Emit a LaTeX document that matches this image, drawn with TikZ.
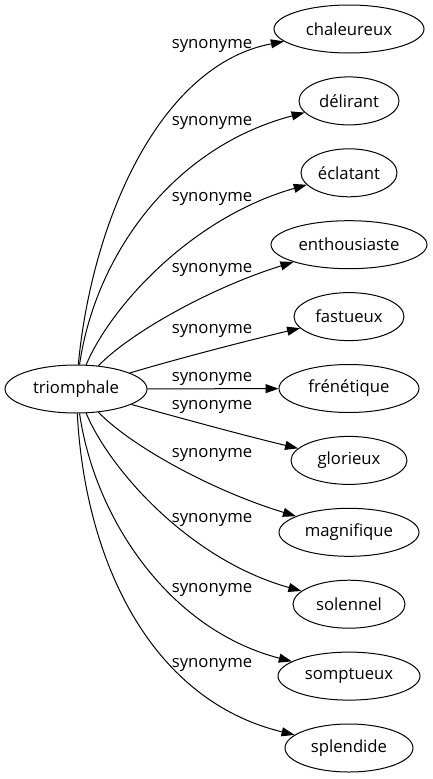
\documentclass[tikz,border=0pt]{standalone}
\usepackage{fontspec}
\setmainfont{Open Sans}
\usetikzlibrary{shapes.geometric,arrows.meta}
\begin{document}
\begin{tikzpicture}[x=1pt,y=-1pt,
  word/.style={draw, ellipse, inner sep=0pt, minimum height=48pt, line width=1pt, font=\fontsize{16.7}{20}\selectfont},
  rel/.style={font=\fontsize{16.7}{20}\selectfont, inner sep=0pt},
  link/.style={line width=1pt, -{Triangle[length=13pt,width=9pt]}}]
\useasboundingbox (0,0) rectangle (433,779);
\node[word, minimum width=142pt] (t) at (76,389) {triomphale};
\node[word, minimum width=150pt] (n1) at (349,29) {chaleureux};
\node[word, minimum width=100pt] (n2) at (349,100.9) {délirant};
\node[word, minimum width=96pt] (n3) at (349,172.8) {éclatant};
\node[word, minimum width=156pt] (n4) at (349,244.7) {enthousiaste};
\node[word, minimum width=110pt] (n5) at (349,316.6) {fastueux};
\node[word, minimum width=140pt] (n6) at (349,388.5) {frénétique};
\node[word, minimum width=116pt] (n7) at (349,460.4) {glorieux};
\node[word, minimum width=140pt] (n8) at (349,532.3) {magnifique};
\node[word, minimum width=112pt] (n9) at (349,604.2) {solennel};
\node[word, minimum width=142pt] (n10) at (349,676.1) {somptueux};
\node[word, minimum width=128pt] (n11) at (349,748) {splendide};
\node[rel] (l1) at (212,46) {synonyme};
\node[rel] (l2) at (212,123) {synonyme};
\node[rel] (l3) at (212,199) {synonyme};
\node[rel] (l4) at (212,270) {synonyme};
\node[rel] (l5) at (212,331) {synonyme};
\node[rel] (l6) at (212,379) {synonyme};
\node[rel] (l7) at (212,407) {synonyme};
\node[rel] (l8) at (212,455) {synonyme};
\node[rel] (l9) at (212,520) {synonyme};
\node[rel] (l10) at (212,590) {synonyme};
\node[rel] (l11) at (212,665) {synonyme};
\draw[link] (t) .. controls (92,220) and (160,65) .. (n1);
\draw[link] (t) .. controls (95,258) and (170,148) .. (n2);
\draw[link] (t) .. controls (110,308) and (190,218) .. (n3);
\draw[link] (t) .. controls (130,333) and (210,288) .. (n4);
\draw[link] (t) .. controls (180,358) and (250,340) .. (n5);
\draw[link] (t) -- (n6);
\draw[link] (t) .. controls (180,418) and (250,437) .. (n7);
\draw[link] (t) .. controls (130,445) and (210,490) .. (n8);
\draw[link] (t) .. controls (110,470) and (190,560) .. (n9);
\draw[link] (t) .. controls (95,520) and (170,630) .. (n10);
\draw[link] (t) .. controls (85,560) and (150,700) .. (n11);
\end{tikzpicture}
\end{document}
